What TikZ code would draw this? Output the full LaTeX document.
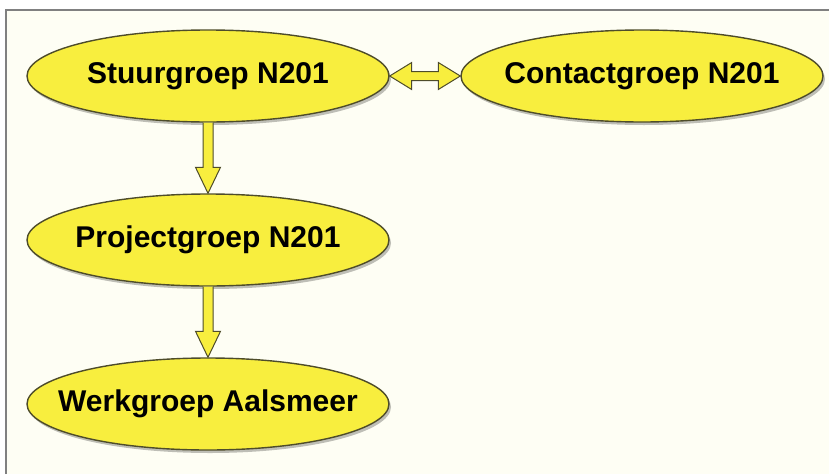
\documentclass[tikz,border=0pt]{standalone}
\usepackage{fontspec}
\setmainfont{Liberation Sans}
\usetikzlibrary{shapes.geometric, positioning, calc, shadows}
\definecolor{groepgeel}{HTML}{F8EE3E}
\definecolor{groeprand}{HTML}{4E4C2A}
\definecolor{achtergrond}{HTML}{FEFEF4}

\begin{document}
\begin{tikzpicture}[x=1pt, y=-1pt, node distance=164pt, on grid,
    groep/.style={ellipse, draw=groeprand, line width=1.4pt, fill=groepgeel,
      minimum width=362pt, minimum height=92pt, inner xsep=-25pt, inner ysep=0pt,
      font=\fontsize{30}{32}\selectfont\bfseries,
      drop shadow={shadow xshift=2pt, shadow yshift=-3pt, opacity=.25, fill=black}},
    pijl/.style={draw=groeprand, line width=1pt, fill=groepgeel, line join=miter}]
   % achtergrond en kader
   \useasboundingbox (0,0) rectangle (829,474);
   \fill[white] (0,0) rectangle (829,474);
   \fill[achtergrond] (6,10) rectangle (829,474);
   \draw[gray, line width=1.2pt] (6,474) -- (6,10) -- (829,10);

   % de groepen
   \node[groep] (stuur) at (208,76) {Stuurgroep N201};
   \node[groep] (contact) [right=434pt of stuur] {Contactgroep N201};
   \node[groep] (project) [below=of stuur] {Projectgroep N201};
   \node[groep] (werk) [below=of project] {Werkgroep Aalsmeer};

   % pijlen naar beneden
   \foreach \van/\naar in {stuur/project, project/werk}
     \draw[pijl] let \p1=(\van.south), \p2=(\naar.north) in
       (\x1-5pt,\y1) -- (\x1-5pt,\y2+26pt) -- (\x1-12.5pt,\y2+26pt) -- (\x2,\y2)
       -- (\x1+12.5pt,\y2+26pt) -- (\x1+5pt,\y2+26pt) -- (\x1+5pt,\y1);

   % dubbele pijl tussen stuurgroep en contactgroep
   \draw[pijl] let \p1=(stuur.east), \p2=(contact.west) in
     (\x1,\y1) -- (\x1+22pt,\y1+13.5pt) -- (\x1+22pt,\y1+4.5pt)
     -- (\x2-22pt,\y2+4.5pt) -- (\x2-22pt,\y2+13.5pt) -- (\x2,\y2)
     -- (\x2-22pt,\y2-13.5pt) -- (\x2-22pt,\y2-4.5pt)
     -- (\x1+22pt,\y1-4.5pt) -- (\x1+22pt,\y1-13.5pt) -- cycle;
\end{tikzpicture}
\end{document}
